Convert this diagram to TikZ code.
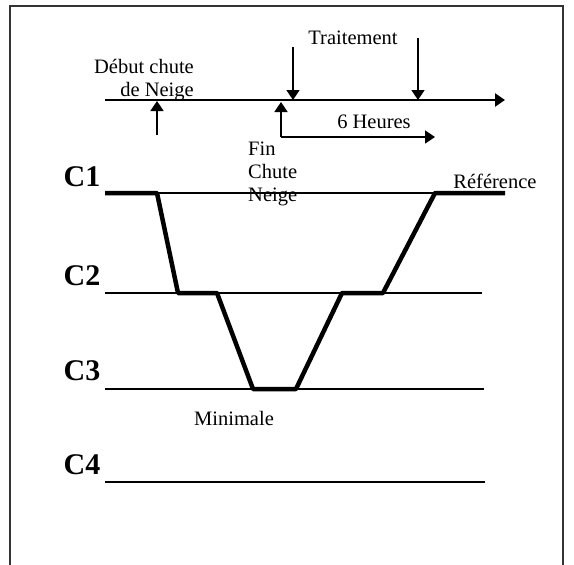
\documentclass[tikz,border=0pt]{standalone}
\usepackage{fontspec}
\setmainfont{Liberation Serif}
\usetikzlibrary{arrows.meta}

\tikzset{
	txt/.style={inner sep=0pt, font=\fontsize{20.5}{23}\selectfont},
	clab/.style={inner sep=0pt, font=\fontsize{30}{32}\selectfont\bfseries},
	level/.style={line width=2.4pt},
	tip/.style={-{Triangle[length=10pt,width=13pt]}}
}

\begin{document}
\begin{tikzpicture}[x=1pt, y=-1pt]
			%%%%% START %%%%%
			\useasboundingbox (0, 0) rectangle (574, 565);
			
			\draw[line width=2pt, color=black!80] (10, 570) -- (10, 6) -- (563, 6) -- (563, 570);
			
			% time axis
			\coordinate (t0) at (105, 100);
			\coordinate (t1) at (505, 100);
			\draw[line width=2.8pt, tip] (t0) -- (t1);
			
			\node[txt, anchor=east, align=right] (debut) at (194, 80) {D\'ebut chute\\de Neige};
			\draw[line width=1.8pt, tip] (157, 135) -- (157, 101);
			
			\node[txt] (trait) at (353, 38) {Traitement};
			\draw[line width=1.8pt, tip] (293, 47) -- (293, 100);
			\draw[line width=1.8pt, tip] (418, 38) -- (418, 100);
			
			\coordinate (fin) at (281, 137);
			\draw[line width=1.8pt, tip] (fin) -- (281, 102);
			\draw[line width=1.8pt, tip] (fin) -- (435, 137);
			\node[txt] (heures) at (374, 122) {6 Heures};
			
			\node[txt, anchor=west, align=left] (finchute) at (248, 174) {Fin\\Chute\\Neige};
			
			% levels
			\node[clab] (c1) at (82, 177) {C1};
			\node[clab] (c2) at (82, 276) {C2};
			\node[clab] (c3) at (82, 371) {C3};
			\node[clab] (c4) at (82, 465) {C4};
			
			\draw[level] (105, 193) -- (505, 193);
			\draw[level] (105, 293) -- (482, 293);
			\draw[level] (105, 389) -- (484, 389);
			\draw[level] (105, 482) -- (485, 482);
			
			\node[txt] (ref) at (495, 181) {R\'ef\'erence};
			\node[txt] (mini) at (234, 418) {Minimale};
			
			% profile
			\draw[line width=4.5pt, line join=round] (105, 193) -- (157, 193) -- (178, 293) -- (217, 293) -- (253, 389) -- (296, 389) -- (342, 293) -- (383, 293) -- (435, 193) -- (505, 193);
			
			%%%%% END %%%%%
		\end{tikzpicture}
\end{document}
